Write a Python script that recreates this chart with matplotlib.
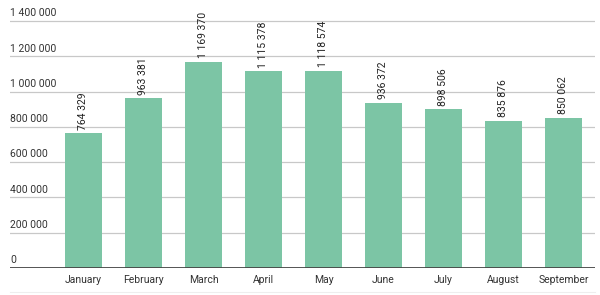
import matplotlib.pyplot as plt
import matplotlib.transforms as mtransforms

plt.rcParams['font.family'] = ['Roboto', 'DejaVu Sans']

months = ['January', 'February', 'March', 'April', 'May', 'June', 'July',
          'August', 'September']
values = [764329, 963381, 1169370, 1115378, 1118574, 936372, 898506, 835876,
          850062]
yticks = [0, 200000, 400000, 600000, 800000, 1000000, 1200000, 1400000]


def fmt(v):
    return f'{v:,}'.replace(',', ' ')


fig = plt.figure(figsize=(6, 2.95), dpi=100)
ax = fig.add_axes([10 / 600, 27 / 295, 585 / 600, 268 / 295])

x = range(len(months))
ax.bar(x, values, width=0.61, color='#7cc5a5', zorder=2)

ax.set_xlim(-1.225, 8.525)
ax.set_ylim(0, 1400000 * 268 / 247)

for s in ax.spines.values():
    s.set_visible(False)
ax.set_yticks([])
ax.set_xticks(list(x))
ax.set_xticklabels(months, fontsize=7.5, color='#333333')
ax.tick_params(axis='x', length=0, pad=5)

trans = mtransforms.blended_transform_factory(ax.transAxes, ax.transData)
for t in yticks:
    if t > 0:
        ax.axhline(t, color='#c8c8c8', lw=0.9, zorder=1)
    ax.text(0, t + 15000, fmt(t), transform=trans, ha='left', va='bottom',
            fontsize=7.5, color='#333333')
ax.axhline(0, color='#444444', lw=2, zorder=3)

for i, v in enumerate(values):
    ax.text(i, v + 20000, fmt(v), rotation=90, ha='center', va='bottom',
            fontsize=7.5, color='#222222')

fig.add_artist(plt.Line2D([10 / 600, 595 / 600], [3 / 295, 3 / 295],
                          color='#eeeeee', lw=0.8))

fig.savefig('out.png')
